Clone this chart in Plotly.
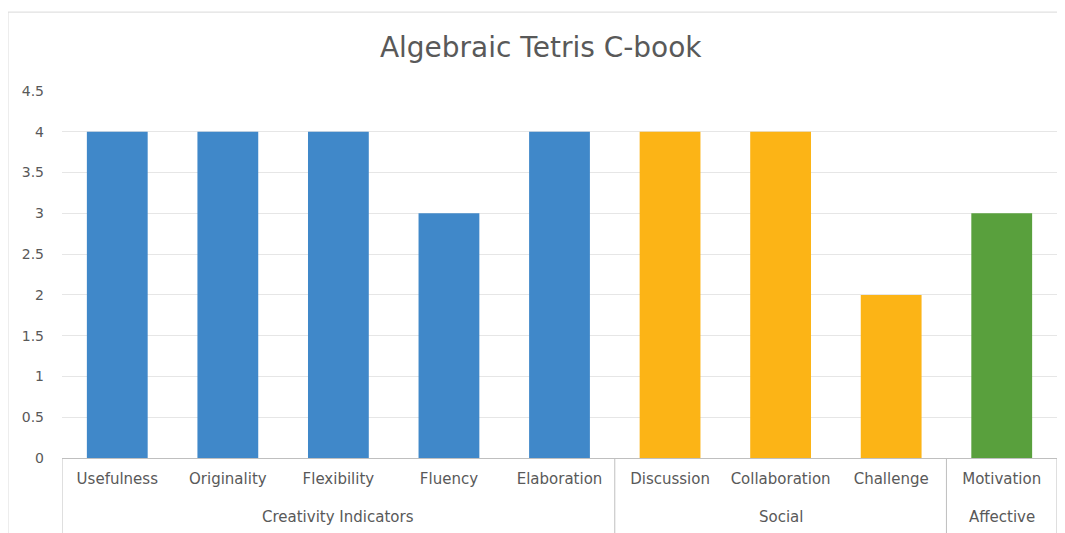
import plotly.graph_objects as go

groups = ["Creativity Indicators"] * 5 + ["Social"] * 3 + ["Affective"]
categories = ["Usefulness", "Originality", "Flexibility", "Fluency", "Elaboration",
              "Discussion", "Collaboration", "Challenge", "Motivation"]
values = [4, 4, 4, 3, 4, 4, 4, 2, 3]
group_colors = {"Creativity Indicators": "#4088C9", "Social": "#FCB416", "Affective": "#59A03D"}
colors = [group_colors[g] for g in groups]
y_ticks = [0, 0.5, 1, 1.5, 2, 2.5, 3, 3.5, 4, 4.5]

FONT = "DejaVu Sans"
GRAY = "#595959"

fig = go.Figure(go.Bar(x=list(range(len(categories))), y=values, marker_color=colors,
                       marker_line_width=0, width=0.55))

fig.update_layout(
    width=1057, height=525,
    margin=dict(l=54, r=8, t=83, b=75, autoexpand=False),
    paper_bgcolor="white", plot_bgcolor="white",
    font=dict(family=FONT, color=GRAY, size=15),
    title=dict(text="Algebraic Tetris C-book", x=0.504, xanchor="center", y=0.926, yanchor="middle",
               font=dict(size=28, color=GRAY, family=FONT)),
    showlegend=False,
)
fig.update_yaxes(range=[0, 4.5], tickvals=y_ticks, ticktext=[f"{v:g}" for v in y_ticks],
                 showgrid=True, gridcolor="#E6E6E6", gridwidth=1, zeroline=False,
                 showline=False, ticks="", tickfont=dict(size=14, color=GRAY),
                 ticklabelstandoff=17, automargin=False)
fig.update_xaxes(range=[-0.5, len(categories) - 0.5], tickvals=list(range(len(categories))),
                 ticktext=categories, showline=True, linecolor="#BFBFBF", linewidth=1,
                 showgrid=False, zeroline=False, ticks="", tickfont=dict(size=15, color=GRAY),
                 ticklabelstandoff=7, automargin=False)

# group labels and dividers
unique_groups = []
for g in groups:
    if g not in unique_groups:
        unique_groups.append(g)
bounds = [-0.5]
for g in unique_groups:
    idx = [i for i, gg in enumerate(groups) if gg == g]
    center = (idx[0] + idx[-1]) / 2
    fig.add_annotation(x=center, xref="x", y=-59 / 367, yref="paper", text=g, showarrow=False,
                       font=dict(size=15, color=GRAY, family=FONT), yanchor="middle")
    bounds.append(idx[-1] + 0.5)
for b in bounds:
    fig.add_shape(type="line", xref="x", yref="paper", x0=b, x1=b, y0=0, y1=-0.25,
                  line=dict(color="#BFBFBF", width=1))

fig.add_shape(type="rect", xref="paper", yref="paper", x0=-0.0543, x1=1.2, y0=-0.4, y1=1.215,
              line=dict(color="#D9D9D9", width=1), fillcolor="rgba(0,0,0,0)", layer="below")
fig.write_html("out.html")
